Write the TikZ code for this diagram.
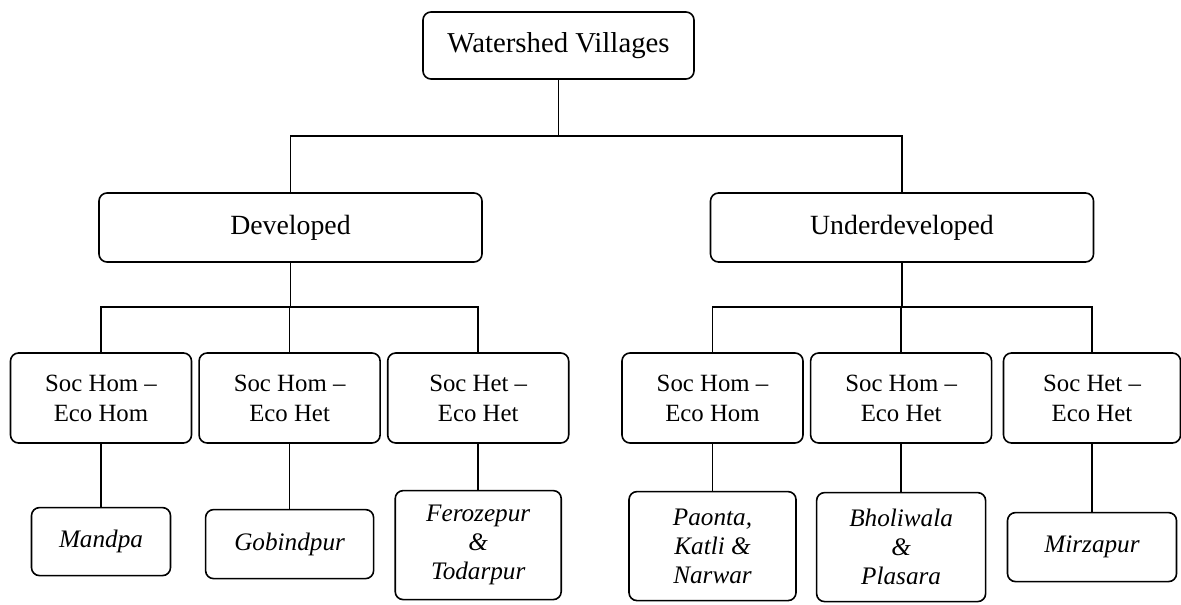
\documentclass[tikz,border=0pt]{standalone}
\usepackage{fontspec}
\setmainfont{Liberation Serif}
\usetikzlibrary{positioning}

\begin{document}
\begin{tikzpicture}[x=0.5pt, y=-0.5pt,
    nd/.style={draw, rounded corners=4pt, line width=0.8pt, align=center, inner sep=0pt},
    ntop/.style={nd, minimum width=135.5pt, minimum height=33.5pt,
                 font=\fontsize{14.4}{17}\selectfont},
    ncls/.style={nd, minimum width=191.5pt, minimum height=34.5pt,
                 font=\fontsize{13.9}{17}\selectfont},
    ngrp/.style={nd, minimum width=90.5pt, minimum height=45pt,
                 font=\fontsize{12.4}{15}\selectfont},
    nvil/.style={nd, minimum width=84pt, minimum height=34pt,
                 font=\fontsize{12.6}{14.5}\selectfont\itshape},
    ntall/.style={nvil, minimum height=54.5pt},
    ln/.style={line width=0.8pt},
]
\useasboundingbox (0,0) rectangle (1181,604);

% === LEVEL 1 / 2: Watershed Villages -> Developed, Underdeveloped ===
\node[ntop] (top) at (558.5,45.5) {Watershed Villages};
\node[ncls] (dev) at (290.5,227.5) {Developed};
\node[ncls] (und) at (902,227.5) {Underdeveloped};

\coordinate (bar1) at (0,136);
\draw[ln] (top.south) -- (top.south |- bar1);
\draw[ln] (dev.north) |- (und.north |- bar1) -- (und.north);

% === LEVEL 3: social / economic groups ===
\node[ngrp] (g1) at (101,398) {Soc Hom \textendash\\Eco Hom};
\node[ngrp, right=3pt of g1] (g2) {Soc Hom \textendash\\Eco Het};
\node[ngrp, right=3pt of g2] (g3) {Soc Het \textendash\\Eco Het};

\node[ngrp] (g4) at (712.5,398) {Soc Hom \textendash\\Eco Hom};
\node[ngrp, right=3pt of g4] (g5) {Soc Hom \textendash\\Eco Het};
\node[ngrp, minimum width=88.5pt] (g6) at (1092,398) {Soc Het \textendash\\Eco Het};

\coordinate (bar2) at (0,307);
\draw[ln] (dev.south) -- (dev.south |- bar2);
\draw[ln] (g1.north) |- (g3.north |- bar2) -- (g3.north);
\draw[ln] (g2.north) -- (g2.north |- bar2);

\draw[ln] (und.south) -- (und.south |- bar2);
\draw[ln] (g4.north) |- (g6.north |- bar2) -- (g6.north);
\draw[ln] (g5.north) -- (g5.north |- bar2);

% === LEVEL 4: villages ===
\node[nvil, below=31.5pt of g1, minimum width=69.5pt] (v1) {Mandpa};
\node[nvil, below=32.5pt of g2, minimum height=34.5pt] (v2) {Gobindpur};
\node[ntall, below=23pt of g3, minimum width=83pt] (v3) {Ferozepur\\\&\\Todarpur};
\node[ntall, below=23.5pt of g4, minimum width=83.5pt] (v4) {Paonta,\\Katli \&\\Narwar};
\node[ntall, below=24pt of g5, minimum width=84.5pt] (v5) {Bholiwala\\\&\\Plasara};
\node[nvil, below=34pt of g6, minimum width=84.5pt, minimum height=34.5pt] (v6) {Mirzapur};

\foreach \i in {1,...,6}
    \draw[ln] (g\i) -- (v\i);

\end{tikzpicture}
\end{document}
